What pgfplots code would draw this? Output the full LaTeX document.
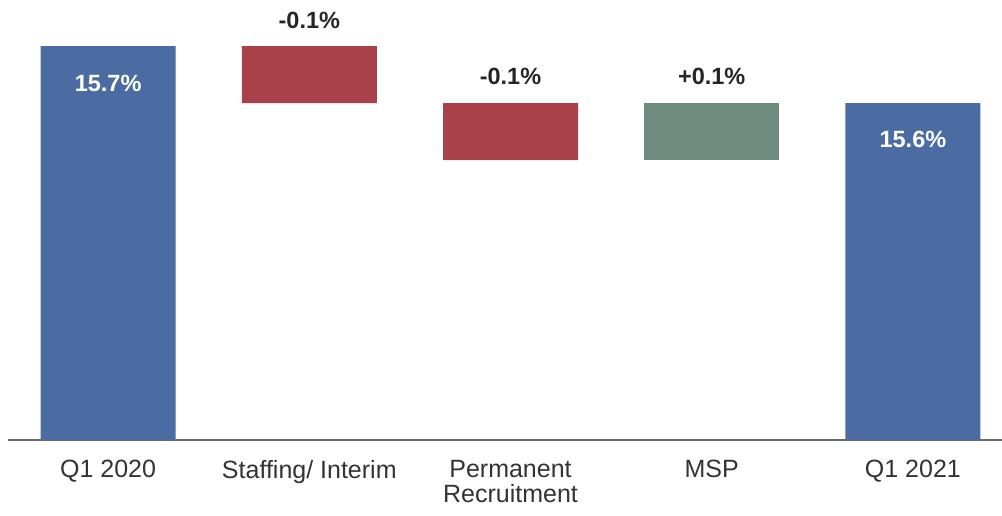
\documentclass[border=0pt]{standalone}
\usepackage{pgfplots}
\pgfplotsset{compat=1.18}
\usepackage{fontspec}
\setmainfont{Liberation Sans}
\definecolor{totblue}{HTML}{4A6CA3}
\definecolor{negred}{HTML}{A8414A}
\definecolor{posgreen}{HTML}{6E8C7E}
\definecolor{axisgray}{HTML}{6A6A6A}
\definecolor{labelgray}{HTML}{333333}

\begin{document}
\begin{tikzpicture}
\begin{axis}[
  at={(0,0)}, anchor=south west,
  scale only axis, width=994pt, height=440pt,
  xmin=-0.4975, xmax=4.4428, ymin=15.009, ymax=15.781,
  ybar stacked, bar width=135pt,
  axis x line*=bottom, axis y line=none,
  x axis line style={axisgray, line width=1.5pt, -},
  xtick={0,1,2,3,4},
  xticklabels={Q1 2020, Staffing/ Interim, Permanent\\Recruitment, MSP, Q1 2021},
  xticklabel style={align=center, font=\fontsize{25}{25.5}\selectfont, text=labelgray, inner sep=3pt, yshift=-17pt},
  xtick style={draw=none},
  major tick length=0pt,
]
% invisible base of the floating bars
\addplot[draw=none, fill=none] coordinates {(0,0) (1,15.6) (2,15.5) (3,15.5) (4,0)};
% totals
\addplot[draw=none, fill=totblue] coordinates {(0,15.7) (1,0) (2,0) (3,0) (4,15.6)};
% decreases
\addplot[draw=none, fill=negred] coordinates {(0,0) (1,0.1) (2,0.1) (3,0) (4,0)};
% increases
\addplot[draw=none, fill=posgreen] coordinates {(0,0) (1,0) (2,0) (3,0.1) (4,0)};

\coordinate (t0) at (axis cs:0,15.7);
\coordinate (t4) at (axis cs:4,15.6);
\coordinate (d1) at (axis cs:1,15.7);
\coordinate (d2) at (axis cs:2,15.6);
\coordinate (d3) at (axis cs:3,15.6);
\end{axis}
% value labels, set on top of the bars
\begin{scope}[every node/.style={font=\bfseries\fontsize{23.5}{24}\selectfont}]
\node[text=white] at ([yshift=-37pt]t0) {15.7\%};
\node[text=white] at ([yshift=-36pt]t4) {15.6\%};
\node[text=black!85] at ([yshift=26pt]d1) {-0.1\%};
\node[text=black!85] at ([yshift=27pt]d2) {-0.1\%};
\node[text=black!85] at ([yshift=27pt]d3) {+0.1\%};
\end{scope}
\pgfresetboundingbox
\path (-8pt,-75pt) rectangle (994pt,440pt);
\end{tikzpicture}
\end{document}
